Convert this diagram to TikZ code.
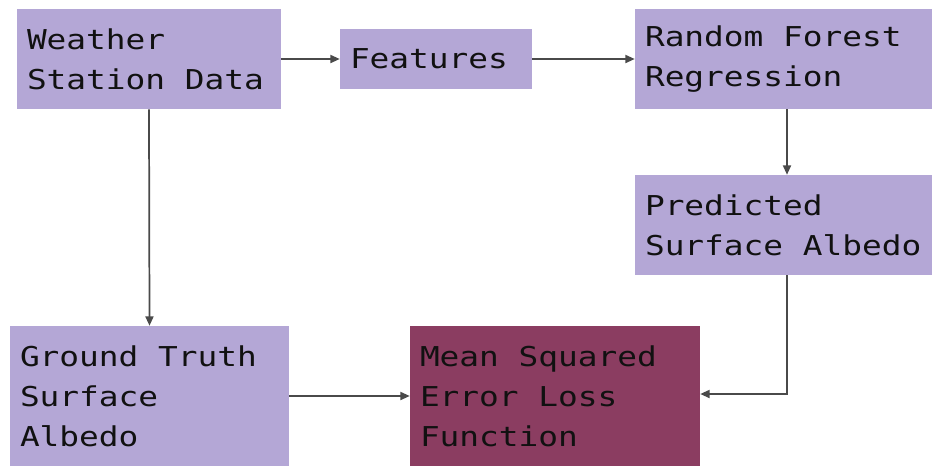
\documentclass[tikz,border=0pt]{standalone}
\usepackage{fontspec}
\newfontfamily\boxfont[FakeStretch=1.2]{DejaVu Sans Mono}
\usetikzlibrary{arrows.meta}
\definecolor{lilac}{HTML}{B4A7D6}
\definecolor{plum}{HTML}{8B3D61}
\definecolor{arrowgray}{HTML}{4A4A4A}
\definecolor{ink}{HTML}{111111}
\newcommand{\monospaces}{\spaceskip=\fontcharwd\font`x\relax\xspaceskip=\spaceskip}
\tikzset{
  box/.style={fill=lilac, draw=none, inner xsep=7.5pt, inner ysep=0pt, align=left,
    text=ink, font=\boxfont\fontsize{20.5}{30}\selectfont,
    execute at begin node=\monospaces},
  lossbox/.style={box, fill=plum},
  conn/.style={draw=arrowgray, line width=1.3pt, -{Triangle[length=7pt,width=6pt]}}
}
\begin{document}
\begin{tikzpicture}[x=0.75pt,y=-0.75pt]
\useasboundingbox (0,0) rectangle (932,465);
\fill[white] (0,0) rectangle (932,465);
\node[box, text width=183pt, minimum height=75pt] (weather) at (149,59) {Weather\\Station Data};
\node[box, text width=129pt, minimum height=45pt] (features) at (436,59) {Features};
\node[box, text width=213pt, minimum height=75pt] (rf) at (787,59) {Random Forest\\Regression};
\node[box, text width=213pt, minimum height=75pt] (pred) at (787,225) {Predicted\\Surface Albedo};
\node[box, text width=194.25pt, minimum height=105pt] (ground) at (149.5,396) {Ground Truth\\Surface\\Albedo};
\node[lossbox, text width=202.5pt, minimum height=105pt] (mse) at (555,396) {Mean Squared\\Error Loss\\Function};
\draw[conn] (weather.east) -- (features.west);
\draw[conn] (features.east) -- (rf.west);
\draw[conn] (rf.south) -- (pred.north);
\draw[conn] (weather.south) -- (ground.north);
\draw[conn] (ground.east) -- (mse.east -| mse.west);
\draw[conn] (pred.south) |- ([yshift=1.5pt]mse.east);
\end{tikzpicture}
\end{document}
